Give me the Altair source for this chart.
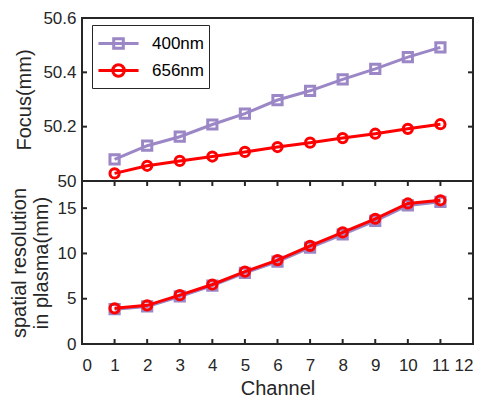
import altair as alt
import pandas as pd

channels = [1, 2, 3, 4, 5, 6, 7, 8, 9, 10, 11]
series_names = ["400nm", "656nm"]
focus_400 = [50.08, 50.13, 50.163, 50.208, 50.248, 50.298, 50.332, 50.374, 50.413, 50.456, 50.492]
focus_656 = [50.028, 50.056, 50.074, 50.09, 50.107, 50.125, 50.141, 50.158, 50.174, 50.192, 50.209]
res_400 = [3.85, 4.15, 5.25, 6.45, 7.85, 9.1, 10.65, 12.1, 13.6, 15.3, 15.7]
res_656 = [3.94, 4.27, 5.39, 6.57, 8.0, 9.27, 10.84, 12.32, 13.83, 15.52, 15.87]

x_ticks = [0, 1, 2, 3, 4, 5, 6, 7, 8, 9, 10, 11, 12]
focus_ticks = [50, 50.2, 50.4, 50.6]
res_ticks = [0, 5, 10, 15]

colors = ["#9B86C6", "#FF0000"]
FONT = "Liberation Sans"
TXT = "#262626"
W, H = 391, 163
TL = 5  # inward tick length

focus_df = pd.DataFrame({
    "channel": channels * 2,
    "value": focus_400 + focus_656,
    "series": ["400nm"] * 11 + ["656nm"] * 11,
})
res_df = pd.DataFrame({
    "channel": channels * 2,
    "value": res_400 + res_656,
    "series": ["400nm"] * 11 + ["656nm"] * 11,
})

color_scale = alt.Scale(domain=series_names, range=colors)
xscale = alt.Scale(domain=[0, 12], nice=False)

# legend symbols: line segment with marker (unit = 12 px for symbolSize 576)
SQ = "M-1.67,0H1.67M-0.4,-0.4H0.4V0.4H-0.4Z"
CI = "M-1.67,0H1.67M0.48,0A0.48,0.48 0 1,1 -0.48,0A0.48,0.48 0 1,1 0.48,0"


def panel(df, ydomain, yticks, ytitle, show_x, legend):
    yscale = alt.Scale(domain=ydomain, nice=False)
    yaxis = alt.Axis(values=yticks, format="~f", ticks=False, domain=False, grid=False,
                     title=ytitle, labelPadding=6, titlePadding=8 if isinstance(ytitle, str) else 6)
    if show_x:
        xaxis = alt.Axis(values=x_ticks, ticks=False, domain=False, grid=False, title="Channel",
                         labelPadding=13, titlePadding=5)
    else:
        xaxis = None
    X = alt.X("channel:Q", scale=xscale, axis=xaxis)
    Y = alt.Y("value:Q", scale=yscale, axis=yaxis)
    base = alt.Chart(df)
    layers = []
    for name, shape, col in zip(series_names, ["square", "circle"], colors):
        sub = base.transform_filter(alt.datum.series == name)
        layers.append(sub.mark_line(strokeWidth=3, color=col).encode(x=X, y=Y))
        layers.append(sub.mark_point(shape=shape, filled=False, strokeWidth=3, size=85,
                                     opacity=1, color=col).encode(x=X, y=Y))
    if legend:
        leg = alt.Legend(
            title=None, orient="none", legendX=10, legendY=7,
            labelFontSize=17, labelFont=FONT, labelColor="black",
            strokeColor="#262626", fillColor="white", padding=5,
            symbolSize=576, symbolStrokeWidth=3, symbolOpacity=1,
            symbolOffset=8, labelOffset=20, rowPadding=2)
        lg = base.mark_point(filled=False, strokeWidth=3, size=0).encode(
            x=X, y=Y,
            color=alt.Color("series:N", scale=color_scale, legend=leg),
            shape=alt.Shape("series:N", scale=alt.Scale(domain=series_names, range=[SQ, CI]),
                            legend=leg),
        )
        layers.append(lg)
    # inward ticks (same axis definitions so that layered axes merge cleanly)
    ydf = pd.DataFrame({"value": yticks})
    layers.append(alt.Chart(ydf).mark_rule(color=TXT, strokeWidth=2).encode(
        y=Y, x=alt.value(0), x2=alt.value(TL)))
    layers.append(alt.Chart(ydf).mark_rule(color=TXT, strokeWidth=2).encode(
        y=Y, x=alt.value(W - TL), x2=alt.value(W)))
    if show_x:
        xdf = pd.DataFrame({"channel": x_ticks})
        layers.append(alt.Chart(xdf).mark_rule(color=TXT, strokeWidth=2).encode(
            x=X, y=alt.value(H - TL), y2=alt.value(H)))
        layers.append(alt.Chart(xdf).mark_rule(color=TXT, strokeWidth=2).encode(
            x=X, y=alt.value(0), y2=alt.value(TL)))
    return alt.layer(*layers).properties(width=W, height=H)


top = panel(focus_df, [50, 50.6], focus_ticks, "Focus(mm)", False, True)
bottom = panel(res_df, [0, 18], res_ticks, ["spatial resolution", "in plasma(mm)"], True, False)

chart = alt.vconcat(top, bottom, spacing=0, bounds="flush").properties(
    padding={"left": 0, "top": 0, "right": 0, "bottom": 0}
).configure_view(
    stroke=TXT, strokeWidth=2
).configure_axis(
    labelFont=FONT, titleFont=FONT, labelFontSize=17, titleFontSize=20,
    labelColor=TXT, titleColor=TXT, titleFontWeight="normal"
).configure_legend(
    labelFont=FONT
)

chart.save("out.html", embed_options={"renderer": "svg", "actions": False})
